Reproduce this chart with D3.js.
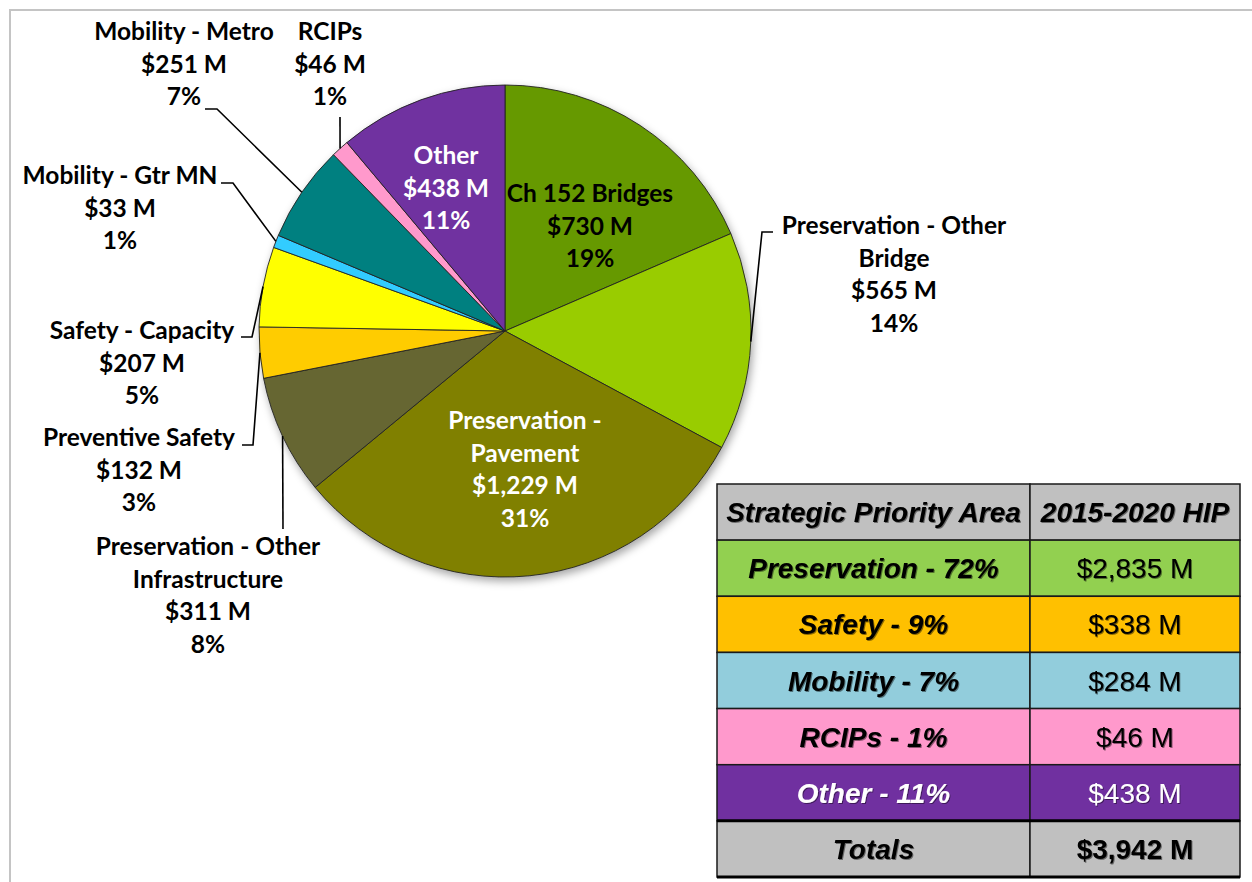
<!DOCTYPE html>
<html lang="en">
<head>
<meta charset="utf-8">
<title>2015-2020 HIP</title>
<script src="https://cdn.jsdelivr.net/npm/d3@7"></script>
<style>
  body { margin: 0; background: #fff; }
  .slice-label { font-family: Lato, "Open Sans", sans-serif; font-weight: 700; font-size: 24.5px; }
  .leader { fill: none; stroke: #000; stroke-width: 1.6px; }
  .cell-text { font-family: "Liberation Sans", Arial, sans-serif; font-size: 28px; }
</style>
</head>
<body>
<script>
// pie slices, clockwise from 12 o'clock
var sliceNames = [
  ["Ch 152 Bridges"],
  ["Preservation - Other", "Bridge"],
  ["Preservation -", "Pavement"],
  ["Preservation - Other", "Infrastructure"],
  ["Preventive Safety"],
  ["Safety - Capacity"],
  ["Mobility - Gtr MN"],
  ["Mobility - Metro"],
  ["RCIPs"],
  ["Other"]
];
var sliceValues = [730, 565, 1229, 311, 132, 207, 33, 251, 46, 438];
var slicePercents = ["19%", "14%", "31%", "8%", "3%", "5%", "1%", "7%", "1%", "11%"];

// summary table
var tableHeader = ["Strategic Priority Area", "2015-2020 HIP"];
var tableAreas = ["Preservation - 72%", "Safety - 9%", "Mobility - 7%", "RCIPs - 1%", "Other - 11%", "Totals"];
var tableValues = ["$2,835 M", "$338 M", "$284 M", "$46 M", "$438 M", "$3,942 M"];

// styles / layout
var sliceColors = ["#669900", "#99cc00", "#808000", "#666633", "#ffcc00",
                   "#ffff00", "#33ccff", "#008080", "#ff99cc", "#7030a0"];
var labelLayout = [
  {x: 590, y: 193, fill: "#000"},
  {x: 894, y: 225, fill: "#000", elbow: [[773, 232], [762, 232]]},
  {x: 525, y: 420, fill: "#fff"},
  {x: 208, y: 546, fill: "#000", elbow: [[283, 529]]},
  {x: 139, y: 437, fill: "#000", elbow: [[242, 445], [253, 445]]},
  {x: 142, y: 330, fill: "#000", elbow: [[241, 337], [252, 337]]},
  {x: 120, y: 175, fill: "#000", elbow: [[221, 183], [233, 183]]},
  {x: 184, y: 31,  fill: "#000", elbow: [[205, 109], [217, 109]]},
  {x: 330, y: 31,  fill: "#000", elbow: [[340, 117]]},
  {x: 446, y: 155, fill: "#fff"}
];
var rowColors = ["#c0c0c0", "#92d050", "#ffc000", "#92cddc", "#ff99cc", "#7030a0", "#c0c0c0"];

var W = 1252, H = 882;
var cx = 505, cy = 331, radius = 246;
var lineH = 32.7;

var svg = d3.select("body").append("svg")
    .attr("width", W)
    .attr("height", H);

var defs = svg.append("defs");
var shadow = defs.append("filter").attr("id", "pieShadow")
    .attr("x", "-10%").attr("y", "-10%").attr("width", "125%").attr("height", "125%");
shadow.append("feDropShadow")
    .attr("dx", 2).attr("dy", 4).attr("stdDeviation", 4)
    .attr("flood-color", "#000").attr("flood-opacity", 0.35);
var textShadow = defs.append("filter").attr("id", "textShadow");
textShadow.append("feDropShadow")
    .attr("dx", 1).attr("dy", 1).attr("stdDeviation", 0.7)
    .attr("flood-color", "#000").attr("flood-opacity", 0.45);

// chart frame (only its top and left edges are in view)
svg.append("path")
    .attr("d", "M10," + H + "V10H" + W)
    .attr("fill", "none")
    .attr("stroke", "#c4c4c4")
    .attr("stroke-width", 2);

// ---- pie ----
var pie = d3.pie().sort(null).value(d => d);
var arcs = pie(sliceValues);
var arc = d3.arc().innerRadius(0).outerRadius(radius);
var edgeArc = d3.arc().innerRadius(radius).outerRadius(radius);

var g = svg.append("g").attr("transform", "translate(" + cx + "," + cy + ")");

g.append("g")
  .attr("filter", "url(#pieShadow)")
  .selectAll("path")
  .data(arcs)
  .enter()
  .append("path")
    .attr("d", arc)
    .attr("fill", (d, i) => sliceColors[i])
    .attr("stroke", "#222")
    .attr("stroke-width", 0.9)
    .attr("stroke-linejoin", "round");

// leader lines: from label elbow to the middle of the slice rim
arcs.forEach(function(d, i) {
  var lay = labelLayout[i];
  if (!lay.elbow) return;
  var end = edgeArc.centroid(d);
  var pts = lay.elbow.map(p => [p[0], p[1]]);
  pts.push([end[0] + cx, end[1] + cy]);
  svg.append("path")
    .attr("class", "leader")
    .attr("d", d3.line()(pts));
});

var fmt = d3.format(",");
arcs.forEach(function(d, i) {
  var lay = labelLayout[i];
  var lines = sliceNames[i].concat(["$" + fmt(sliceValues[i]) + " M", slicePercents[i]]);
  var t = svg.append("text")
    .attr("class", "slice-label")
    .attr("text-anchor", "middle")
    .attr("fill", lay.fill);
  lines.forEach(function(s, k) {
    t.append("tspan")
      .attr("x", lay.x)
      .attr("y", lay.y + k * lineH)
      .attr("dy", "0.36em")
      .text(s);
  });
});

// ---- table ----
var tx0 = 717, tx1 = 1030, tx2 = 1240, ty0 = 484, ty1 = 877;
var rows = [tableHeader].concat(tableAreas.map((a, i) => [a, tableValues[i]]));
var y = d3.scaleBand().domain(d3.range(rows.length)).range([ty0, ty1]);
var x = d3.scaleOrdinal().domain([0, 1]).range([tx0, tx1]);
var colW = [tx1 - tx0, tx2 - tx1];

var table = svg.append("g");
rows.forEach(function(r, ri) {
  var header = ri === 0, total = ri === rows.length - 1;
  r.forEach(function(txt, ci) {
    table.append("rect")
      .attr("x", x(ci))
      .attr("y", y(ri))
      .attr("width", colW[ci])
      .attr("height", y.bandwidth())
      .attr("fill", rowColors[ri])
      .attr("stroke", "#1a1a1a")
      .attr("stroke-width", 1.5);
    table.append("text")
      .attr("class", "cell-text")
      .attr("x", x(ci) + colW[ci] / 2)
      .attr("y", y(ri) + y.bandwidth() / 2)
      .attr("dy", "0.36em")
      .attr("text-anchor", "middle")
      .attr("font-weight", (ci === 0 || header || total) ? 700 : 400)
      .attr("font-style", (ci === 0 || header) ? "italic" : "normal")
      .attr("fill", ri === 5 ? "#fff" : "#000")
      .attr("filter", "url(#textShadow)")
      .text(txt);
  });
});
// heavier rules above and below the totals row
[y(rows.length - 1), ty1].forEach(function(v) {
  table.append("line")
    .attr("x1", tx0).attr("x2", tx2)
    .attr("y1", v).attr("y2", v)
    .attr("stroke", "#000")
    .attr("stroke-width", 3);
});
</script>
</body>
</html>
